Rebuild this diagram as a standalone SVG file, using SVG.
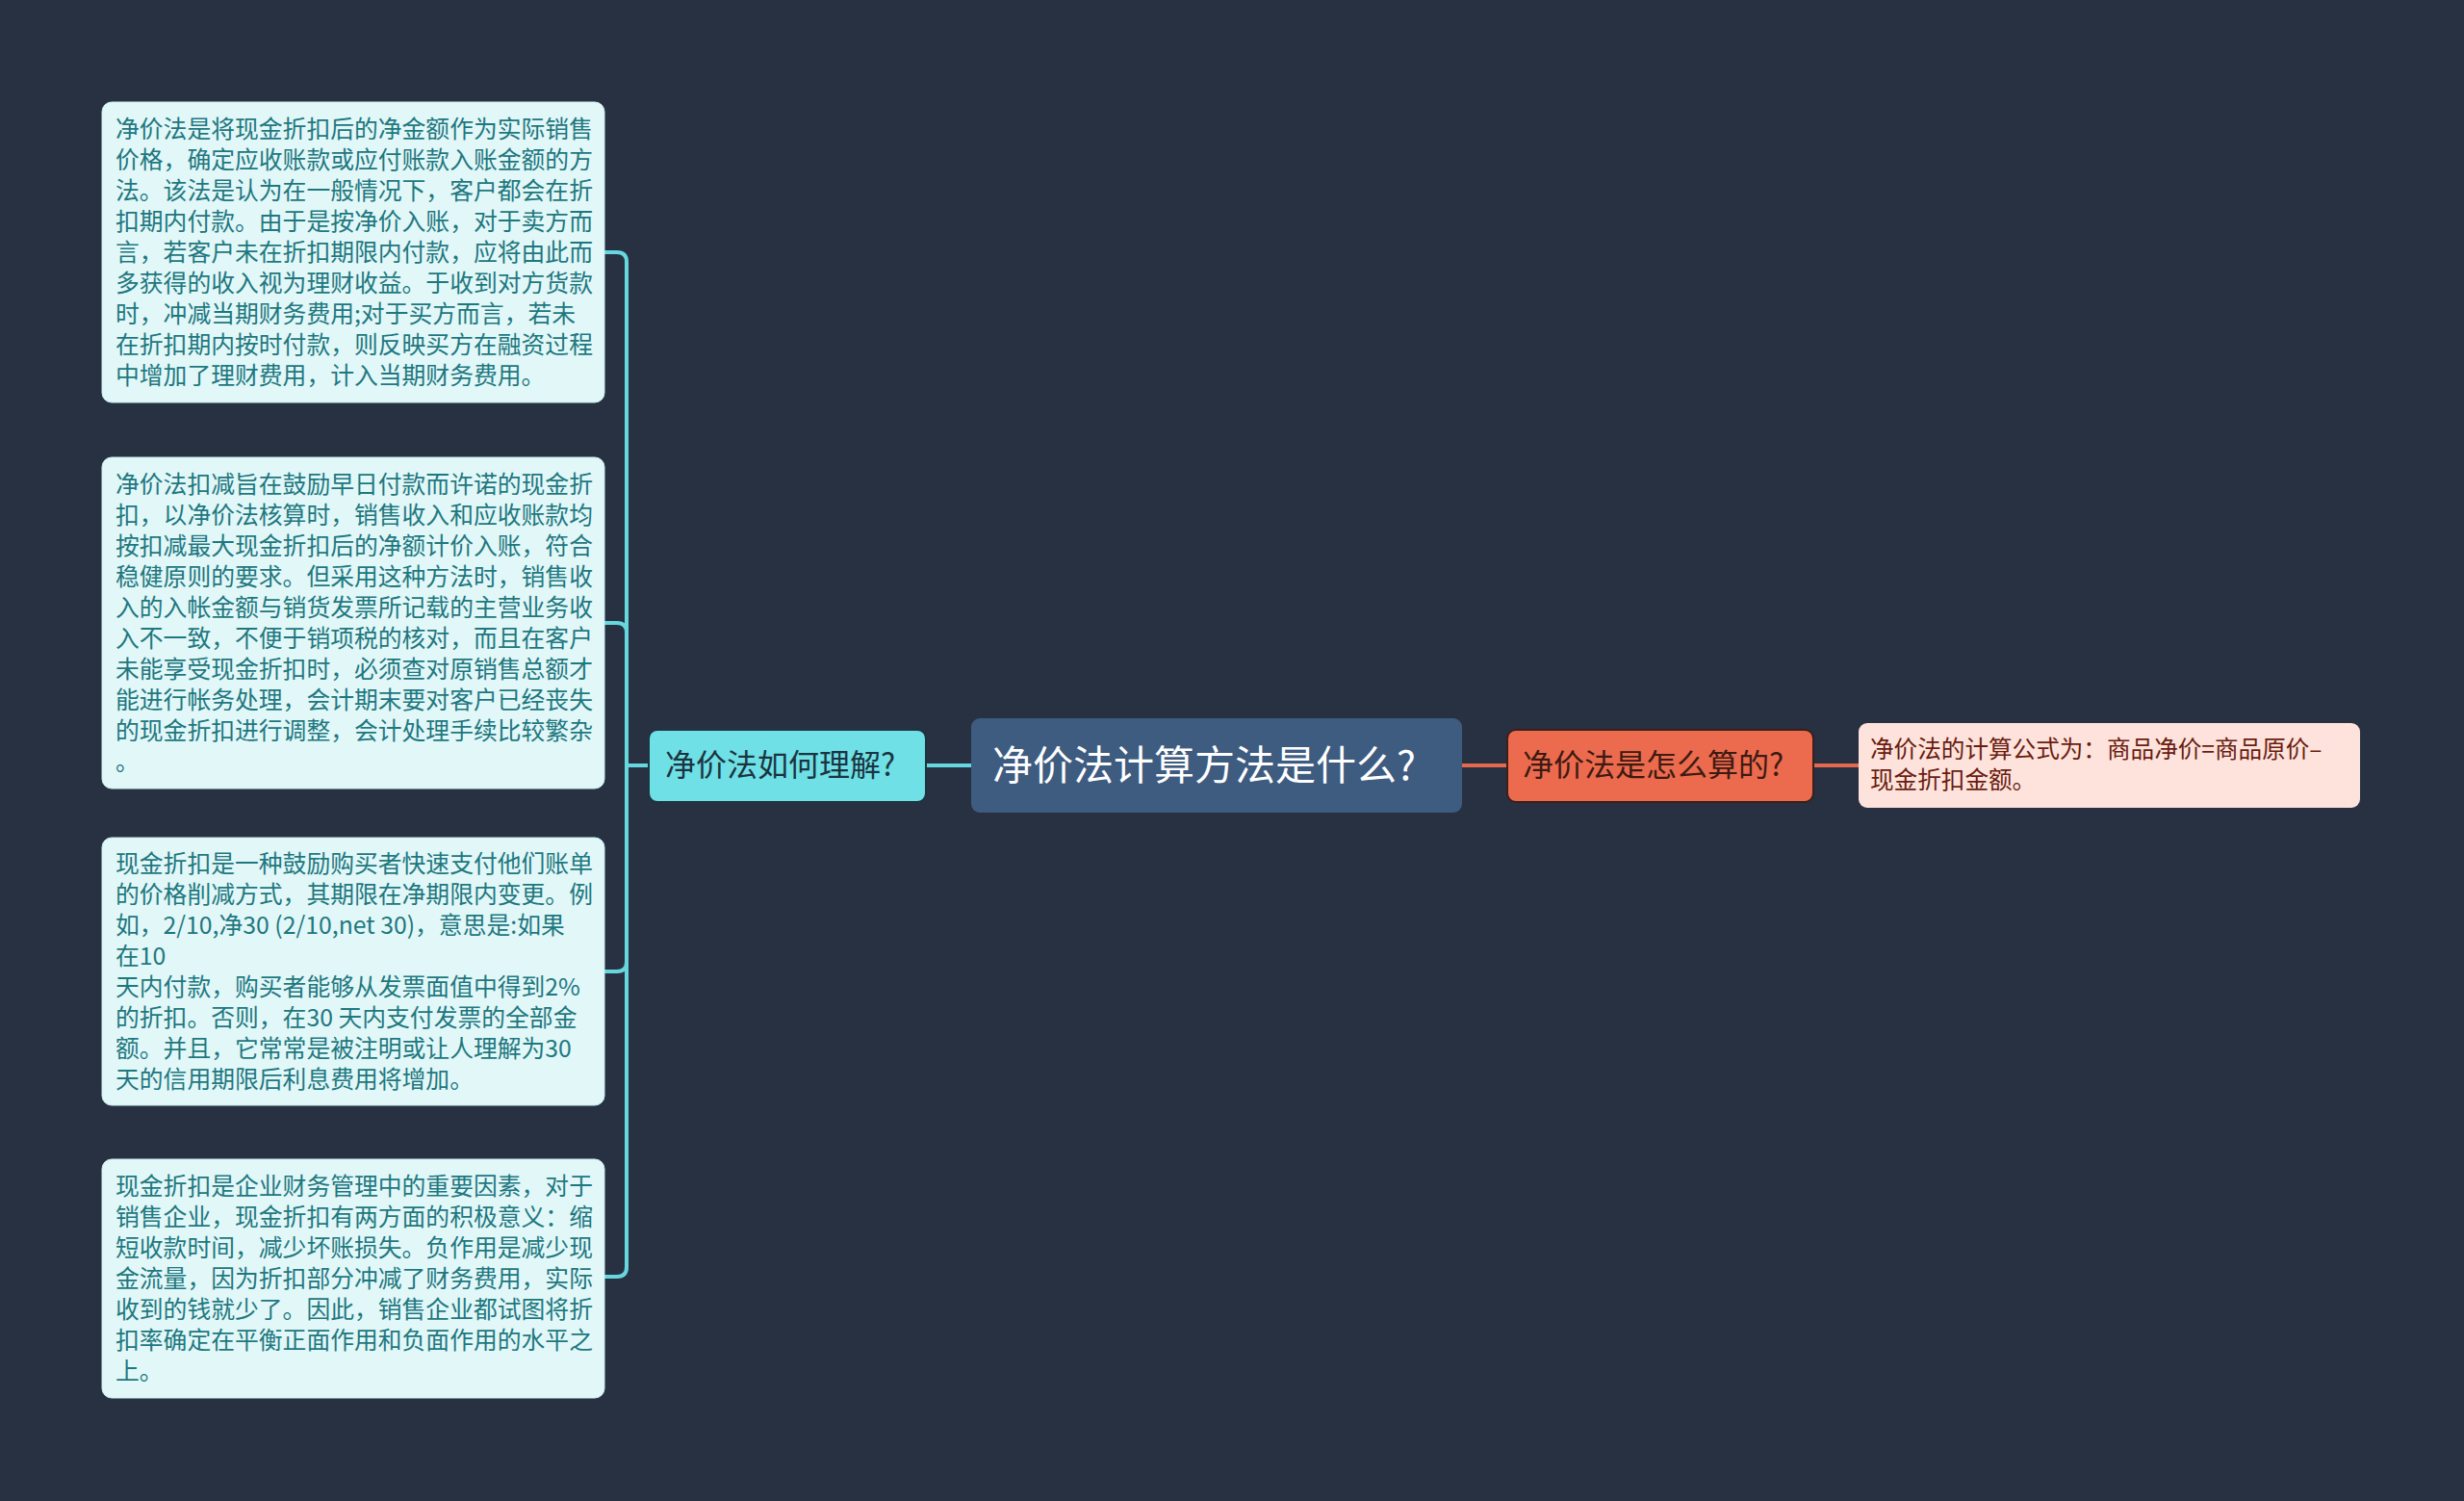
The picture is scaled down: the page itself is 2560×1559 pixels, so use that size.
<svg xmlns="http://www.w3.org/2000/svg" width="2560" height="1559" viewBox="0 0 2560 1559">
<style>
text{font-family:"Noto Sans CJK SC","Noto Sans",sans-serif;}
.leaf rect{fill:#e2f7f8;stroke:#c9eef0;stroke-width:1;}
.leaf text{font-size:24.8px;fill:#1e7880;}
.cyan{fill:none;stroke:#66d6df;stroke-width:4;}
.orange{fill:none;stroke:#e5694d;stroke-width:4;}
</style>
<rect width="2560" height="1559" fill="#283141"/>
<g id="connectors">
<path class="cyan" d="M1009,795 H962"/>
<path class="cyan" d="M674,795 H651 V272 Q651,262 641,262 H628"/>
<path class="cyan" d="M674,795 H651 V657 Q651,647 641,647 H628"/>
<path class="cyan" d="M674,795 H651 V999 Q651,1009 641,1009 H628"/>
<path class="cyan" d="M674,795 H651 V1316 Q651,1326 641,1326 H628"/>
<path class="orange" d="M1518,795 H1566"/>
<path class="orange" d="M1884,795 H1931"/>
</g>
<g id="root">
<rect x="1009" y="746" width="510" height="98" rx="9" fill="#3e5b80"/>
<text x="1031" y="810" font-size="42" fill="#ffffff">净价法计算方法是什么?</text>
</g>
<g id="n-understand">
<rect x="674" y="758" width="288" height="75" rx="9" fill="#6ee0e6" stroke="#1f3340" stroke-width="2"/>
<text x="691" y="806" font-size="32" fill="#1c3440">净价法如何理解?</text>
</g>
<g id="n-calc">
<rect x="1566" y="758" width="318" height="75" rx="9" fill="#ec6b4e" stroke="#3a1f1a" stroke-width="2"/>
<text x="1582" y="806" font-size="32" fill="#3d1a12">净价法是怎么算的?</text>
</g>
<g id="leaf-formula">
<rect x="1931" y="751" width="521" height="88" rx="9" fill="#fde3dc"/>
<text font-size="24.6" fill="#6b1c10"><tspan x="1943" y="787">净价法的计算公式为：商品净价=商品原价–</tspan><tspan x="1943" y="819">现金折扣金额。</tspan></text>
</g>
<g id="leaf1" class="leaf">
<rect x="106" y="106" width="522" height="312" rx="10"/>
<text><tspan x="120" y="143">净价法是将现金折扣后的净金额作为实际销售</tspan><tspan x="120" y="175">价格，确定应收账款或应付账款入账金额的方</tspan><tspan x="120" y="207">法。该法是认为在一般情况下，客户都会在折</tspan><tspan x="120" y="239">扣期内付款。由于是按净价入账，对于卖方而</tspan><tspan x="120" y="271">言，若客户未在折扣期限内付款，应将由此而</tspan><tspan x="120" y="303">多获得的收入视为理财收益。于收到对方货款</tspan><tspan x="120" y="335">时，冲减当期财务费用;对于买方而言，若未</tspan><tspan x="120" y="367">在折扣期内按时付款，则反映买方在融资过程</tspan><tspan x="120" y="399">中增加了理财费用，计入当期财务费用。</tspan></text>
</g>
<g id="leaf2" class="leaf">
<rect x="106" y="475" width="522" height="344" rx="10"/>
<text><tspan x="120" y="512">净价法扣减旨在鼓励早日付款而许诺的现金折</tspan><tspan x="120" y="544">扣，以净价法核算时，销售收入和应收账款均</tspan><tspan x="120" y="576">按扣减最大现金折扣后的净额计价入账，符合</tspan><tspan x="120" y="608">稳健原则的要求。但采用这种方法时，销售收</tspan><tspan x="120" y="640">入的入帐金额与销货发票所记载的主营业务收</tspan><tspan x="120" y="672">入不一致，不便于销项税的核对，而且在客户</tspan><tspan x="120" y="704">未能享受现金折扣时，必须查对原销售总额才</tspan><tspan x="120" y="736">能进行帐务处理，会计期末要对客户已经丧失</tspan><tspan x="120" y="768">的现金折扣进行调整，会计处理手续比较繁杂</tspan><tspan x="120" y="800">。</tspan></text>
</g>
<g id="leaf3" class="leaf">
<rect x="106" y="870" width="522" height="278" rx="10"/>
<text><tspan x="120" y="906">现金折扣是一种鼓励购买者快速支付他们账单</tspan><tspan x="120" y="938">的价格削减方式，其期限在净期限内变更。例</tspan><tspan x="120" y="970">如，2/10,净30 (2/10,net 30)，意思是:如果</tspan><tspan x="120" y="1002">在10</tspan><tspan x="120" y="1034">天内付款，购买者能够从发票面值中得到2%</tspan><tspan x="120" y="1066">的折扣。否则，在30 天内支付发票的全部金</tspan><tspan x="120" y="1098">额。并且，它常常是被注明或让人理解为30</tspan><tspan x="120" y="1130">天的信用期限后利息费用将增加。</tspan></text>
</g>
<g id="leaf4" class="leaf">
<rect x="106" y="1204" width="522" height="248" rx="10"/>
<text><tspan x="120" y="1241">现金折扣是企业财务管理中的重要因素，对于</tspan><tspan x="120" y="1273">销售企业，现金折扣有两方面的积极意义：缩</tspan><tspan x="120" y="1305">短收款时间，减少坏账损失。负作用是减少现</tspan><tspan x="120" y="1337">金流量，因为折扣部分冲减了财务费用，实际</tspan><tspan x="120" y="1369">收到的钱就少了。因此，销售企业都试图将折</tspan><tspan x="120" y="1401">扣率确定在平衡正面作用和负面作用的水平之</tspan><tspan x="120" y="1433">上。</tspan></text>
</g>
</svg>
